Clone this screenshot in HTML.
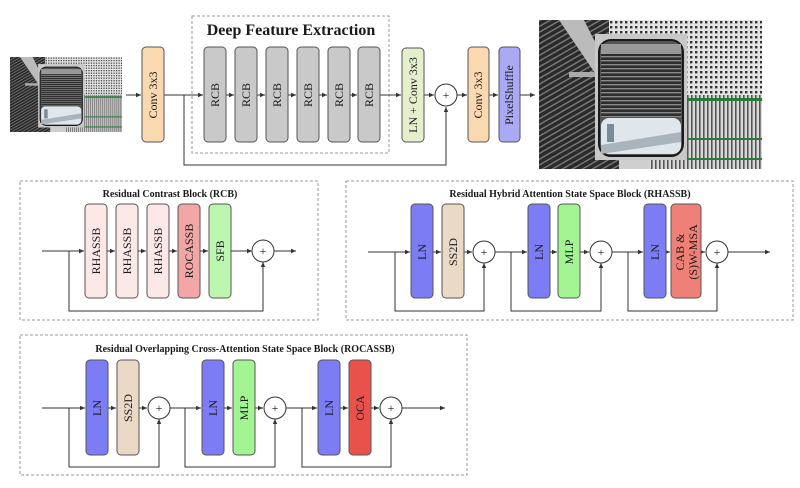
<!DOCTYPE html>
<html><head><meta charset="utf-8"><style>
html,body{margin:0;padding:0;background:#fff;}
svg{display:block;}
text{font-family:"Liberation Serif","Times New Roman",serif;fill:#1a1a1a;}
</style></head><body>
<svg width="800" height="488" viewBox="0 0 800 488" xmlns="http://www.w3.org/2000/svg">
<defs>
<marker id="a" markerWidth="6" markerHeight="6" refX="5" refY="3" orient="auto" markerUnits="userSpaceOnUse"><path d="M0,0.8 L5,3 L0,5.2z" fill="#333"/></marker>
<pattern id="hs" width="4" height="4" patternUnits="userSpaceOnUse"><rect width="4" height="4" fill="#2e2e2e"/><rect width="4" height="1.4" fill="#8a8a8a"/></pattern>
<pattern id="ds" width="5" height="5" patternUnits="userSpaceOnUse" patternTransform="rotate(-30)"><rect width="5" height="5" fill="#2a2a2a"/><rect width="5" height="1.5" fill="#777"/></pattern>
<pattern id="vs" width="4" height="4" patternUnits="userSpaceOnUse"><rect width="4" height="4" fill="#d8d8d8"/><rect width="1.6" height="4" fill="#555"/></pattern>
<pattern id="dots" width="5" height="5" patternUnits="userSpaceOnUse"><rect width="5" height="5" fill="#e4e4e4"/><rect x="1" y="1" width="2.4" height="2.4" fill="#333"/></pattern>
<symbol id="photo" viewBox="0 0 223 149" preserveAspectRatio="none">
<rect width="223" height="149" fill="#cfcfcf"/>
<rect x="0" y="0" width="80" height="149" fill="url(#ds)"/>
<path d="M20,0 L45,0 L75,60 L62,62z" fill="#bbb"/>
<rect x="30" y="52" width="40" height="5" fill="#aaa"/>
<rect x="70" y="0" width="153" height="80" fill="url(#dots)"/>
<rect x="110" y="75" width="113" height="74" fill="url(#vs)"/>
<rect x="140" y="78" width="83" height="3" fill="#2a7a3a"/>
<rect x="140" y="118" width="83" height="2" fill="#2a7a3a"/>
<rect x="140" y="138" width="83" height="2" fill="#2a7a3a"/>
<rect x="56" y="14" width="92" height="126" fill="#c8c8c8"/>
<rect x="60" y="20" width="84" height="116" rx="12" fill="#555" stroke="#1a1a1a" stroke-width="2"/>
<rect x="62" y="34" width="80" height="64" fill="url(#hs)"/>
<path d="M62,24 L142,24 L142,34 L62,34z" fill="#999"/>
<rect x="62" y="98" width="80" height="36" rx="8" fill="#dfe6ec"/>
<path d="M62,125 L142,112 L142,122 L62,134z" fill="#aab4bc"/>
<rect x="68" y="104" width="7" height="18" fill="#7a8a9a"/>
</symbol>
</defs>

<!-- TOP -->
<use href="#photo" x="10" y="57" width="112" height="75"/>
<use href="#photo" x="539" y="20" width="223" height="149"/>
<rect x="192" y="16" width="197" height="137" fill="none" stroke="#999" stroke-dasharray="3,2"/>
<text x="291" y="35" font-size="16" font-weight="bold" text-anchor="middle">Deep Feature Extraction</text>
<g stroke="#333" stroke-width="1" fill="none">
<line x1="126" y1="95" x2="141" y2="95" marker-end="url(#a)"/>
<line x1="164" y1="95" x2="203" y2="95" marker-end="url(#a)"/>
<line x1="226" y1="95" x2="234" y2="95" marker-end="url(#a)"/>
<line x1="257" y1="95" x2="265" y2="95" marker-end="url(#a)"/>
<line x1="288" y1="95" x2="296" y2="95" marker-end="url(#a)"/>
<line x1="319" y1="95" x2="327" y2="95" marker-end="url(#a)"/>
<line x1="350" y1="95" x2="357" y2="95" marker-end="url(#a)"/>
<line x1="380" y1="95" x2="401" y2="95" marker-end="url(#a)"/>
<line x1="424" y1="95" x2="434" y2="95" marker-end="url(#a)"/>
<line x1="457" y1="95" x2="467" y2="95" marker-end="url(#a)"/>
<line x1="489" y1="95" x2="498" y2="95" marker-end="url(#a)"/>
<line x1="520" y1="95" x2="535" y2="95" marker-end="url(#a)"/>
<polyline points="184,95 184,165 446,165 446,107" marker-end="url(#a)"/>
<circle cx="446" cy="95" r="11" fill="#fff"/>
</g>
<text x="446" y="99" font-size="12" text-anchor="middle" fill="#555">+</text>
<g stroke="#555" stroke-width="1">
<rect x="142" y="47" width="22" height="95" rx="4" fill="#fad9b0"/>
<rect x="204" y="47" width="22" height="95" rx="4" fill="#c9c9c9"/>
<rect x="235" y="47" width="22" height="95" rx="4" fill="#c9c9c9"/>
<rect x="266" y="47" width="22" height="95" rx="4" fill="#c9c9c9"/>
<rect x="297" y="47" width="22" height="95" rx="4" fill="#c9c9c9"/>
<rect x="328" y="47" width="22" height="95" rx="4" fill="#c9c9c9"/>
<rect x="358" y="47" width="22" height="95" rx="4" fill="#c9c9c9"/>
<rect x="402" y="48" width="22" height="94" rx="4" fill="#e4efcc"/>
<rect x="468" y="47" width="21" height="95" rx="4" fill="#fad9b0"/>
<rect x="499" y="47" width="21" height="95" rx="4" fill="#a9a9f5"/>
</g>
<g font-size="12" text-anchor="middle">
<text transform="translate(157,95) rotate(-90)">Conv 3x3</text>
<text transform="translate(219,95) rotate(-90)">RCB</text>
<text transform="translate(250,95) rotate(-90)">RCB</text>
<text transform="translate(281,95) rotate(-90)">RCB</text>
<text transform="translate(312,95) rotate(-90)">RCB</text>
<text transform="translate(343,95) rotate(-90)">RCB</text>
<text transform="translate(373,95) rotate(-90)">RCB</text>
<text transform="translate(417,95) rotate(-90)">LN + Conv 3x3</text>
<text transform="translate(482,95) rotate(-90)">Conv 3x3</text>
<text transform="translate(513,95) rotate(-90)">PixelShuffle</text>
</g>

<!-- RCB panel -->
<rect x="20" y="181" width="298" height="139" fill="none" stroke="#999" stroke-dasharray="3,2"/>
<text x="170" y="197" font-size="10" font-weight="bold" text-anchor="middle">Residual Contrast Block (RCB)</text>
<g stroke="#333" fill="none">
<line x1="42" y1="251" x2="84" y2="251" marker-end="url(#a)"/>
<line x1="107" y1="251" x2="115" y2="251" marker-end="url(#a)"/>
<line x1="138" y1="251" x2="146" y2="251" marker-end="url(#a)"/>
<line x1="169" y1="251" x2="177" y2="251" marker-end="url(#a)"/>
<line x1="200" y1="251" x2="208" y2="251" marker-end="url(#a)"/>
<line x1="231" y1="251" x2="252" y2="251" marker-end="url(#a)"/>
<line x1="274" y1="251" x2="296" y2="251" marker-end="url(#a)"/>
<polyline points="69,251 69,311 263,311 263,262" marker-end="url(#a)"/>
<circle cx="263" cy="251" r="11" fill="#fff"/>
</g>
<text x="263" y="255" font-size="12" text-anchor="middle" fill="#555">+</text>
<g stroke="#555">
<rect x="85" y="204" width="22" height="94" rx="4" fill="#fde8e8"/>
<rect x="116" y="204" width="22" height="94" rx="4" fill="#fde8e8"/>
<rect x="147" y="204" width="22" height="94" rx="4" fill="#fde8e8"/>
<rect x="178" y="204" width="22" height="94" rx="4" fill="#f2a6a6"/>
<rect x="209" y="204" width="22" height="94" rx="4" fill="#bdf6ae"/>
</g>
<g font-size="12" text-anchor="middle">
<text transform="translate(100,251) rotate(-90)">RHASSB</text>
<text transform="translate(131,251) rotate(-90)">RHASSB</text>
<text transform="translate(162,251) rotate(-90)">RHASSB</text>
<text transform="translate(193,251) rotate(-90)">ROCASSB</text>
<text transform="translate(224,251) rotate(-90)">SFB</text>
</g>

<!-- RHASSB panel -->
<rect x="346" y="181" width="447" height="139" fill="none" stroke="#999" stroke-dasharray="3,2"/>
<text x="570" y="197" font-size="10" font-weight="bold" text-anchor="middle">Residual Hybrid Attention State Space Block (RHASSB)</text>
<g stroke="#333" fill="none">
<line x1="368" y1="252" x2="410" y2="252" marker-end="url(#a)"/>
<line x1="433" y1="252" x2="441" y2="252" marker-end="url(#a)"/>
<line x1="464" y1="252" x2="472" y2="252" marker-end="url(#a)"/>
<line x1="495" y1="252" x2="527" y2="252" marker-end="url(#a)"/>
<line x1="550" y1="252" x2="557" y2="252" marker-end="url(#a)"/>
<line x1="580" y1="252" x2="589" y2="252" marker-end="url(#a)"/>
<line x1="612" y1="252" x2="643" y2="252" marker-end="url(#a)"/>
<line x1="666" y1="252" x2="670" y2="252" marker-end="url(#a)"/>
<line x1="701" y1="252" x2="705" y2="252" marker-end="url(#a)"/>
<line x1="728" y1="252" x2="770" y2="252" marker-end="url(#a)"/>
<polyline points="395,252 395,311 484,311 484,263" marker-end="url(#a)"/>
<polyline points="511,252 511,311 601,311 601,263" marker-end="url(#a)"/>
<polyline points="628,252 628,311 717,311 717,263" marker-end="url(#a)"/>
<circle cx="484" cy="252" r="11" fill="#fff"/>
<circle cx="601" cy="252" r="11" fill="#fff"/>
<circle cx="717" cy="252" r="11" fill="#fff"/>
</g>
<g font-size="12" text-anchor="middle" fill="#555"><text x="484" y="256">+</text><text x="601" y="256">+</text><text x="717" y="256">+</text></g>
<g stroke="#555">
<rect x="411" y="204" width="22" height="94" rx="4" fill="#7c7cf5"/>
<rect x="442" y="204" width="22" height="94" rx="4" fill="#e9d9c5"/>
<rect x="528" y="204" width="22" height="94" rx="4" fill="#7c7cf5"/>
<rect x="558" y="204" width="22" height="94" rx="4" fill="#a3f594"/>
<rect x="644" y="204" width="22" height="94" rx="4" fill="#7c7cf5"/>
<rect x="671" y="204" width="30" height="94" rx="4" fill="#ef8078"/>
</g>
<g font-size="12" text-anchor="middle">
<text transform="translate(426,252) rotate(-90)">LN</text>
<text transform="translate(457,252) rotate(-90)">SS2D</text>
<text transform="translate(543,252) rotate(-90)">LN</text>
<text transform="translate(573,252) rotate(-90)">MLP</text>
<text transform="translate(659,252) rotate(-90)">LN</text>
<text transform="translate(684,252) rotate(-90)">CAB &amp;</text>
<text transform="translate(697,252) rotate(-90)">(S)W-MSA</text>
</g>

<!-- ROCASSB panel -->
<rect x="20" y="335" width="447" height="140" fill="none" stroke="#999" stroke-dasharray="3,2"/>
<text x="245" y="352" font-size="10" font-weight="bold" text-anchor="middle">Residual Overlapping Cross-Attention State Space Block (ROCASSB)</text>
<g stroke="#333" fill="none">
<line x1="42" y1="408" x2="85" y2="408" marker-end="url(#a)"/>
<line x1="108" y1="408" x2="116" y2="408" marker-end="url(#a)"/>
<line x1="139" y1="408" x2="147" y2="408" marker-end="url(#a)"/>
<line x1="170" y1="408" x2="201" y2="408" marker-end="url(#a)"/>
<line x1="224" y1="408" x2="232" y2="408" marker-end="url(#a)"/>
<line x1="255" y1="408" x2="263" y2="408" marker-end="url(#a)"/>
<line x1="286" y1="408" x2="317" y2="408" marker-end="url(#a)"/>
<line x1="340" y1="408" x2="348" y2="408" marker-end="url(#a)"/>
<line x1="371" y1="408" x2="379" y2="408" marker-end="url(#a)"/>
<line x1="402" y1="408" x2="445" y2="408" marker-end="url(#a)"/>
<polyline points="69,408 69,467 159,467 159,419" marker-end="url(#a)"/>
<polyline points="185,408 185,467 275,467 275,419" marker-end="url(#a)"/>
<polyline points="302,408 302,467 391,467 391,419" marker-end="url(#a)"/>
<circle cx="159" cy="408" r="11" fill="#fff"/>
<circle cx="275" cy="408" r="11" fill="#fff"/>
<circle cx="391" cy="408" r="11" fill="#fff"/>
</g>
<g font-size="12" text-anchor="middle" fill="#555"><text x="159" y="412">+</text><text x="275" y="412">+</text><text x="391" y="412">+</text></g>
<g stroke="#555">
<rect x="86" y="360" width="22" height="95" rx="4" fill="#7c7cf5"/>
<rect x="117" y="360" width="22" height="95" rx="4" fill="#e9d9c5"/>
<rect x="202" y="360" width="22" height="95" rx="4" fill="#7c7cf5"/>
<rect x="233" y="360" width="22" height="95" rx="4" fill="#a3f594"/>
<rect x="318" y="360" width="22" height="95" rx="4" fill="#7c7cf5"/>
<rect x="349" y="360" width="22" height="95" rx="4" fill="#e8524b"/>
</g>
<g font-size="12" text-anchor="middle">
<text transform="translate(101,408) rotate(-90)">LN</text>
<text transform="translate(132,408) rotate(-90)">SS2D</text>
<text transform="translate(217,408) rotate(-90)">LN</text>
<text transform="translate(248,408) rotate(-90)">MLP</text>
<text transform="translate(333,408) rotate(-90)">LN</text>
<text transform="translate(364,408) rotate(-90)">OCA</text>
</g>
</svg>
</body></html>
